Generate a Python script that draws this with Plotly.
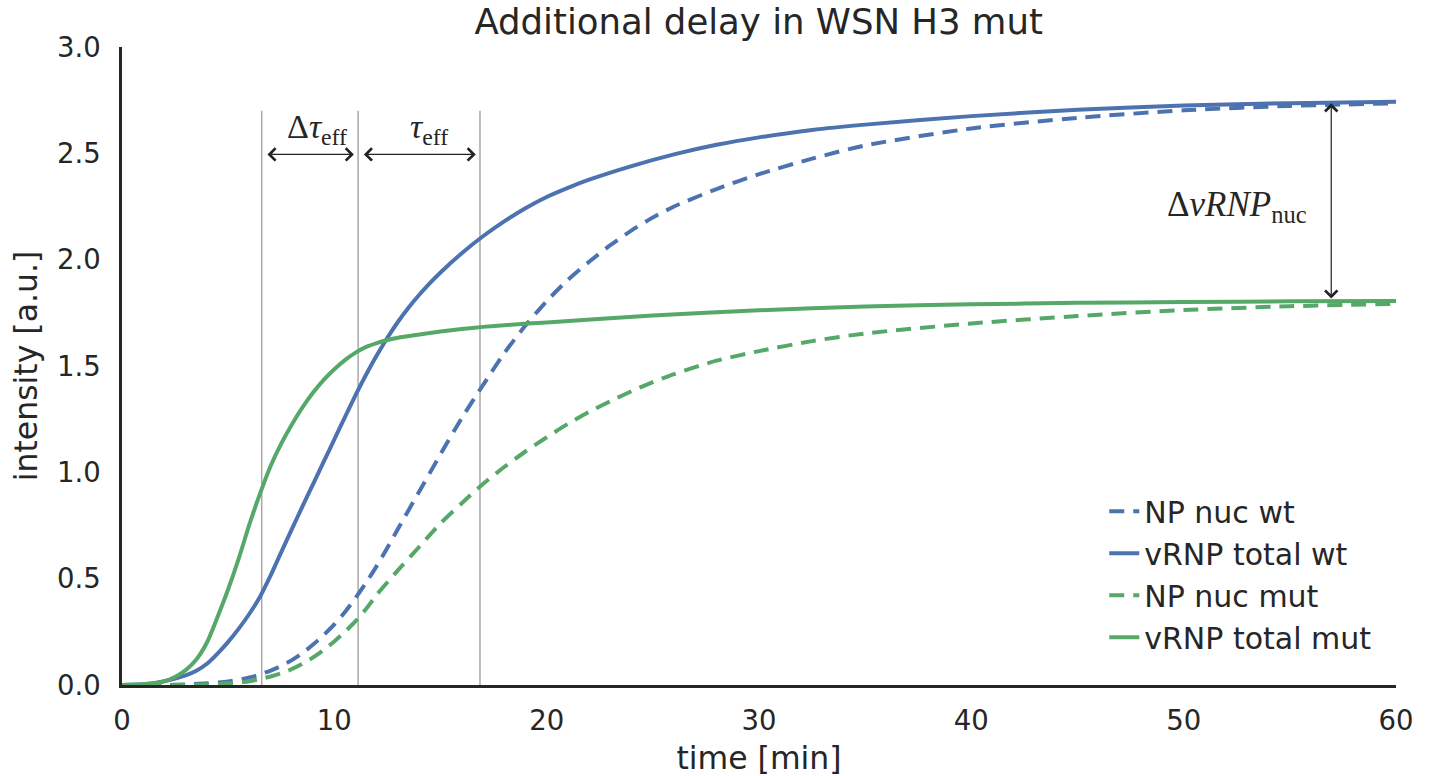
import plotly.graph_objects as go

# ---------------- data ----------------
t_green_solid = [0, 1, 2, 2.5, 3, 3.5, 4, 4.5, 5, 5.5, 6, 6.5, 7, 7.5, 8, 8.5, 9, 9.5, 10, 10.5, 11, 11.5, 12, 12.5, 13, 14, 15, 16, 17, 18, 20, 25, 30, 35, 40, 45, 50, 55, 60]
vrnp_total_mut = [0, 0.003, 0.018, 0.038, 0.07, 0.12, 0.2, 0.32, 0.45, 0.595, 0.755, 0.9, 1.03, 1.135, 1.225, 1.305, 1.375, 1.435, 1.485, 1.528, 1.563, 1.59, 1.608, 1.622, 1.633, 1.648, 1.662, 1.674, 1.684, 1.692, 1.705, 1.738, 1.762, 1.78, 1.79, 1.797, 1.801, 1.804, 1.806]

t_blue_solid = [0, 1, 2, 3, 3.5, 4, 4.5, 5, 5.5, 6, 6.5, 7, 7.5, 8, 8.5, 9, 9.5, 10, 10.5, 11, 11.5, 12, 12.5, 13, 13.5, 14, 14.5, 15, 16, 17, 18, 19, 20, 21, 22, 24, 26, 28, 30, 32.5, 35, 40, 45, 50, 55, 60]
vrnp_total_wt = [0, 0.003, 0.018, 0.045, 0.067, 0.1, 0.148, 0.203, 0.265, 0.335, 0.415, 0.515, 0.625, 0.733, 0.84, 0.945, 1.05, 1.155, 1.26, 1.363, 1.46, 1.55, 1.633, 1.708, 1.775, 1.835, 1.89, 1.94, 2.03, 2.11, 2.18, 2.242, 2.295, 2.338, 2.376, 2.44, 2.495, 2.54, 2.575, 2.61, 2.635, 2.675, 2.705, 2.725, 2.736, 2.742]

t_blue_dash = [0, 2, 3, 4, 5, 5.5, 6, 6.5, 7, 7.5, 8, 8.5, 9, 9.5, 10, 10.5, 11, 11.5, 12, 12.5, 13, 14, 15, 16, 17, 18, 19, 20, 21, 22, 23, 24, 25, 26, 28, 30, 32.5, 35, 40, 45, 50, 55, 60]
np_nuc_wt = [0, 0.0, 0.003, 0.008, 0.017, 0.025, 0.035, 0.05, 0.068, 0.09, 0.117, 0.15, 0.19, 0.235, 0.285, 0.343, 0.41, 0.482, 0.56, 0.645, 0.735, 0.91, 1.085, 1.255, 1.41, 1.56, 1.69, 1.805, 1.905, 1.99, 2.068, 2.138, 2.198, 2.25, 2.332, 2.402, 2.475, 2.537, 2.617, 2.667, 2.702, 2.723, 2.735]

t_green_dash = [0, 3, 4, 5, 6, 6.5, 7, 7.5, 8, 8.5, 9, 9.5, 10, 10.5, 11, 11.5, 12, 13, 14, 15, 16, 17, 18, 19, 20, 21, 22, 23, 24, 25, 26, 28, 30, 32.5, 35, 40, 45, 50, 55, 60]
np_nuc_mut = [0, 0.0, 0.003, 0.008, 0.018, 0.028, 0.04, 0.055, 0.075, 0.1, 0.13, 0.165, 0.205, 0.25, 0.30, 0.358, 0.425, 0.54, 0.65, 0.76, 0.855, 0.945, 1.025, 1.098, 1.165, 1.228, 1.284, 1.335, 1.382, 1.424, 1.462, 1.525, 1.57, 1.617, 1.653, 1.70, 1.735, 1.763, 1.781, 1.792]

x_ticks = [0, 10, 20, 30, 40, 50, 60]
y_ticks = [0.0, 0.5, 1.0, 1.5, 2.0, 2.5, 3.0]

# annotation anchors
marker_times = [6.58, 11.12, 16.86]
marker_top = 2.70
arrow_y = 2.495
label_y = 2.615
label_x = [9.2, 14.45]
delta_arrow_x = 56.95
delta_arrow_top = 2.735
delta_arrow_bottom = 1.81
delta_label = (52.5, 2.25)

BLUE = "#4C72B0"
GREEN = "#55A868"
TXT = "#262626"

fig = go.Figure()
line_w = 4
dash = "15px,9px"
spl = dict(shape="spline", smoothing=0.7)
fig.add_trace(go.Scatter(x=t_blue_dash, y=np_nuc_wt, mode="lines", name="NP nuc wt",
                         line=dict(color=BLUE, width=line_w, dash=dash, **spl)))
fig.add_trace(go.Scatter(x=t_blue_solid, y=vrnp_total_wt, mode="lines", name="vRNP total wt",
                         line=dict(color=BLUE, width=line_w, **spl)))
fig.add_trace(go.Scatter(x=t_green_dash, y=np_nuc_mut, mode="lines", name="NP nuc mut",
                         line=dict(color=GREEN, width=line_w, dash=dash, **spl)))
fig.add_trace(go.Scatter(x=t_green_solid, y=vrnp_total_mut, mode="lines", name="vRNP total mut",
                         line=dict(color=GREEN, width=line_w, **spl)))

# vertical marker lines
for tm in marker_times:
    fig.add_shape(type="line", x0=tm, x1=tm, y0=0, y1=marker_top, xref="x", yref="y",
                  line=dict(color="#a8a8a8", width=1.5), layer="below")

# double arrows
arrow_common = dict(xref="x", yref="y", axref="x", ayref="y", text="", showarrow=True,
                    arrowhead=4, startarrowhead=4, arrowside="end+start", arrowsize=2.0,
                    startarrowsize=2.0, arrowwidth=1.2, arrowcolor="#222222", standoff=0, startstandoff=0)
fig.add_annotation(x=marker_times[1] - 0.2, y=arrow_y, ax=marker_times[0] + 0.2, ay=arrow_y, **arrow_common)
fig.add_annotation(x=marker_times[2] - 0.2, y=arrow_y, ax=marker_times[1] + 0.2, ay=arrow_y, **arrow_common)
fig.add_annotation(x=delta_arrow_x, y=delta_arrow_top, ax=delta_arrow_x, ay=delta_arrow_bottom, **arrow_common)

serif = dict(family="Liberation Serif, DejaVu Serif, serif", size=34, color=TXT)
fig.add_annotation(x=label_x[0], y=label_y, xref="x", yref="y",
                   text="Δ<i>τ</i><sub>eff</sub>", showarrow=False, font=serif)
fig.add_annotation(x=label_x[1], y=label_y, xref="x", yref="y",
                   text="<i>τ</i><sub>eff</sub>", showarrow=False, font=serif)
fig.add_annotation(x=delta_label[0], y=delta_label[1], xref="x", yref="y",
                   text="Δ<i>vRNP</i><sub>nuc</sub>", showarrow=False,
                   font=dict(family=serif["family"], size=35, color=TXT))

font_sans = "DejaVu Sans, Verdana, sans-serif"
fig.update_layout(
    width=1430, height=776,
    margin=dict(l=122, r=34, t=47, b=91),
    paper_bgcolor="white", plot_bgcolor="white",
    font=dict(family=font_sans, color=TXT, size=27),
    title=dict(text="Additional delay in WSN H3 mut", x=0.5305, xanchor="center", y=0.972, yanchor="middle",
               font=dict(size=35.5, family=font_sans, color=TXT)),
    showlegend=True,
    legend=dict(x=0.771, y=0.313, xanchor="left", yanchor="top", bgcolor="rgba(0,0,0,0)",
                font=dict(size=30, family=font_sans, color=TXT), tracegroupgap=0),
    xaxis=dict(range=[0, 60], tickvals=x_ticks, showgrid=False, zeroline=False, automargin=False,
               showline=True, linecolor=TXT, linewidth=2.5, ticks="", ticklen=0, ticklabelstandoff=9,
               tickfont=dict(size=27.5), title=dict(text="time [min]", font=dict(size=31.5), standoff=14)),
    yaxis=dict(range=[0, 3.0], tickvals=y_ticks, tickformat=".1f", showgrid=False, zeroline=False, automargin=False,
               showline=True, linecolor=TXT, linewidth=2.5, ticks="", ticklen=0, ticklabelstandoff=13,
               tickfont=dict(size=27.5), title=dict(text="intensity [a.u.]", font=dict(size=31.5), standoff=10)),
)

fig.write_html("out.html")
